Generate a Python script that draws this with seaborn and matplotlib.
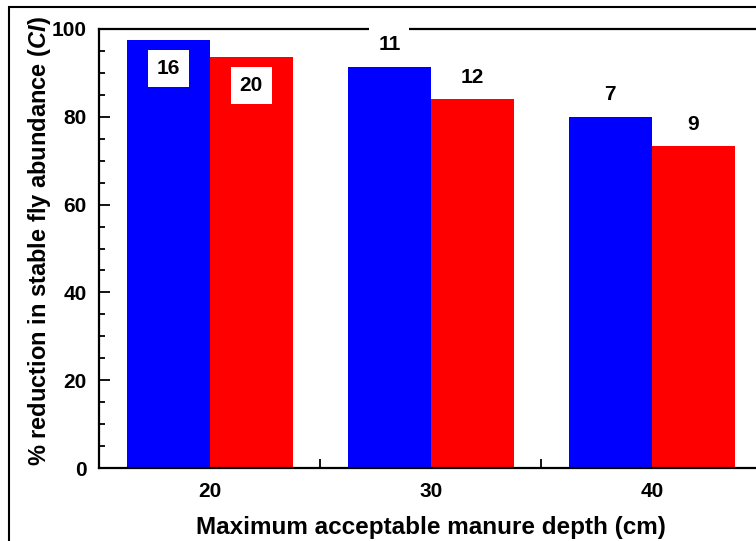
import matplotlib
matplotlib.use("Agg")
import matplotlib.pyplot as plt
from matplotlib.patches import Rectangle
from matplotlib.ticker import MultipleLocator, FixedLocator
import pandas as pd
import seaborn as sns

# Maximum acceptable manure depth (cm) on the x axis
depths = ["20", "30", "40"]
# % reduction in stable fly abundance for the two treatments
blue_reduction = [97.4, 91.4, 80.0]
red_reduction = [93.6, 83.9, 73.3]
# counts printed over each bar
blue_counts = [16, 11, 7]
red_counts = [20, 12, 9]
y_ticks = [0, 20, 40, 60, 80, 100]

sns.set_theme(style="white")
plt.rcParams["font.family"] = ["Liberation Sans", "DejaVu Sans"]
plt.rcParams["font.weight"] = "bold"
plt.rcParams["text.color"] = "black"
plt.rcParams["axes.labelcolor"] = "black"
plt.rcParams["xtick.color"] = "black"
plt.rcParams["ytick.color"] = "black"
plt.rcParams["mathtext.fontset"] = "custom"
plt.rcParams["mathtext.it"] = "Liberation Sans:italic:bold"
plt.rcParams["mathtext.rm"] = "Liberation Sans:bold"
try:
    plt.rcParams["mathtext.bfit"] = "Liberation Sans:italic:bold"
    ci_text = r"$\mathbfit{CI}$"
except KeyError:
    ci_text = r"$\mathit{CI}$"

df = pd.DataFrame({
    "depth": depths * 2,
    "reduction": blue_reduction + red_reduction,
    "treatment": ["blue"] * len(depths) + ["red"] * len(depths),
})

fig = plt.figure(figsize=(7.56, 5.41), dpi=100)
W, H = 756.0, 541.0
ax = fig.add_axes([99.3 / W, (H - 468.3) / H, 663.0 / W, 439.6 / H])

sns.barplot(
    data=df, x="depth", y="reduction", hue="treatment",
    palette={"blue": "#0000ff", "red": "#ff0000"},
    width=0.75, saturation=1, dodge=True, legend=False,
    edgecolor="none", linewidth=0, ax=ax,
)

ax.set_xlim(-0.5, 2.5)
ax.set_ylim(0, 100)
ax.set_yticks(y_ticks)
ax.yaxis.set_minor_locator(MultipleLocator(5))
ax.xaxis.set_minor_locator(FixedLocator([0.5, 1.5]))

ax.tick_params(axis="both", which="both", direction="in", left=True, bottom=True,
               colors="black", width=1.3)
ax.tick_params(axis="y", which="major", length=8, pad=9, labelsize=15)
ax.tick_params(axis="y", which="minor", length=4.5)
ax.tick_params(axis="x", which="major", length=0, pad=10, labelsize=15)
ax.tick_params(axis="x", which="minor", length=6.5)
for lbl in ax.get_xticklabels() + ax.get_yticklabels():
    lbl.set_fontweight("bold")

for side in ["left", "bottom", "top", "right"]:
    ax.spines[side].set_visible(True)
    ax.spines[side].set_color("black")
    ax.spines[side].set_linewidth(1.6)

ax.set_xlabel("Maximum acceptable manure depth (cm)", fontsize=17.5,
              fontweight="bold", labelpad=10.5)
ax.set_ylabel("% reduction in stable fly abundance (" + ci_text + ")",
              fontsize=17, fontweight="bold")
ax.yaxis.set_label_coords(-0.0705, 0.516)

# counts above (or inside, when near the top) each bar
for container, counts in zip(ax.containers, [blue_counts, red_counts]):
    for bar, n in zip(container, counts):
        h = bar.get_height()
        y = h - 6.5 if h > 92 else h + 5.0
        ax.text(bar.get_x() + bar.get_width() / 2, y, str(n),
                ha="center", va="center", fontsize=15, fontweight="bold",
                color="black",
                bbox=dict(boxstyle="square,pad=0.42", fc="white", ec="none"),
                zorder=5)

# outer frame around the figure
fig.add_artist(Rectangle((9.3 / W, -0.1), 1.2, (1 - 7.3 / H) + 0.1,
                         transform=fig.transFigure, fill=False,
                         lw=1.5, ec="black"))

fig.savefig("out.png", dpi=100)
